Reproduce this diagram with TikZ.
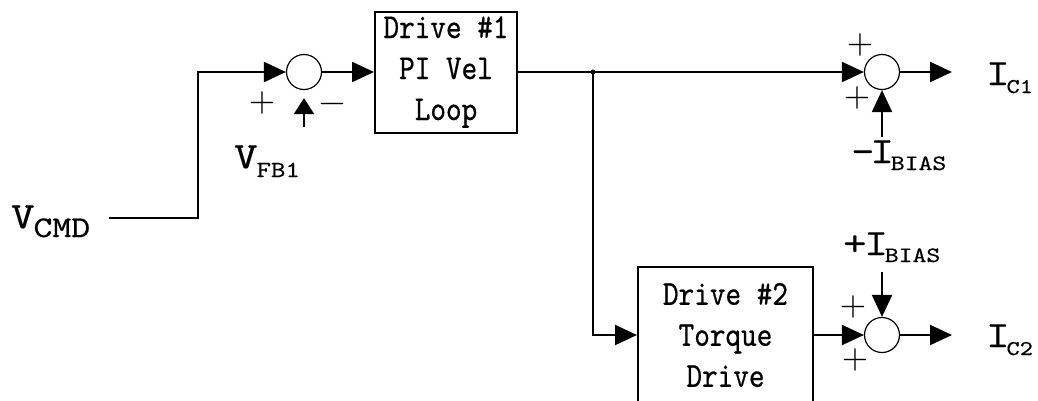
\documentclass[tikz,border=0pt]{standalone}
\usepackage{fontspec}
\usetikzlibrary{arrows.meta}
\newfontfamily\lblfont[FakeStretch=1.2,FakeBold=0.5]{lmmono10-regular.otf}
\newfontfamily\bxfont[FakeStretch=0.85,FakeBold=0.6]{lmmono10-regular.otf}
\newfontfamily\sgnfont{lmroman10-regular.otf}
% #1 main text, #2 subscript, #3 subscript size, #4 drop, #5 kern
\newcommand\labtxt[5]{{\lblfont\fontsize{37pt}{37pt}\selectfont #1}\kern#5\raisebox{-#4}{\lblfont\fontsize{#3}{#3}\selectfont #2}}
\begin{document}
\begin{tikzpicture}[x=1pt,y=-1pt,
  arr/.style={line width=2pt,-{Triangle[length=22pt,width=20pt]}},
  sumnode/.style={circle,draw,line width=1.2pt,minimum size=35pt,inner sep=0pt},
  blk/.style={draw,line width=2pt,inner sep=0pt,align=center,font=\bxfont\fontsize{35pt}{41pt}\selectfont},
  lbl/.style={anchor=base west,inner sep=0pt},
  sgn/.style={inner sep=0pt,font=\sgnfont\fontsize{34pt}{34pt}\selectfont}]
\useasboundingbox (0,0) rectangle (1038,400);

% blocks
\node[sumnode] (s1) at (304,72) {};
\node[blk,minimum width=142pt,minimum height=121pt] (box1) at (446,72) {Drive \#1\\PI Vel\\Loop};
\node[sumnode] (s2) at (882,72) {};
\node[blk,minimum width=175pt,minimum height=136pt] (box2) at (725.5,335) {Drive \#2\\Torque\\Drive};
\node[sumnode] (s3) at (882,335) {};

% labels
\node[lbl] (vcmd) at (11,228) {\labtxt{V}{CMD}{30pt}{9pt}{-1pt}};
\node[lbl] (vfb) at (234,168) {\labtxt{V}{FB1}{23pt}{9pt}{-1pt}};
\node[lbl] (ic1) at (986,85) {\labtxt{I}{C1}{21pt}{8pt}{-3pt}};
\node[lbl] (ic2) at (986,347) {\labtxt{I}{C2}{21pt}{8pt}{-3pt}};
\node[lbl] (ib1) at (851,163) {\labtxt{-\kern-4pt I}{BIAS}{22pt}{7pt}{-3pt}};
\node[lbl] (ib2) at (843,255) {\labtxt{+\kern-2pt I}{BIAS}{22pt}{7pt}{-3pt}};

% signs
\node[sgn] (p1) at (262,103) {+};
\node[sgn] (m1) at (332,108) {\symbol{"2212}};
\node[sgn] (p2) at (860,45) {+};
\node[sgn] (p3) at (857,98) {+};
\node[sgn] (p4) at (853,307) {+};
\node[sgn] (p5) at (855,360) {+};

% coordinates
\coordinate (cin) at (109,218);
\coordinate (k1) at (198,72);
\coordinate (j) at (593,72);
\coordinate (fb) at (304,127);
\coordinate (b1) at (882,137);
\coordinate (b2) at (882,272);
\coordinate (o1) at (952,72);
\coordinate (o2) at (952,335);

% connectors
\draw[arr] (cin) -| (k1) -- (s1.west);
\draw[arr] (s1.east) -- (box1.west);
\draw[arr] (box1.east) -- (s2.west);
\fill (j) circle (2.5pt);
\draw[arr] (j) |- (box2.west);
\draw[arr] (box2.east) -- (s3.west);
\draw[arr] (s2.east) -- (o1);
\draw[arr] (s3.east) -- (o2);
\draw[line width=2pt,-{Triangle[length=16pt,width=20pt]},shorten >=8pt] (fb) -- (s1.south);
\draw[arr] (b1) -- (s2.south);
\draw[arr] (b2) -- (s3.north);
\end{tikzpicture}
\end{document}
